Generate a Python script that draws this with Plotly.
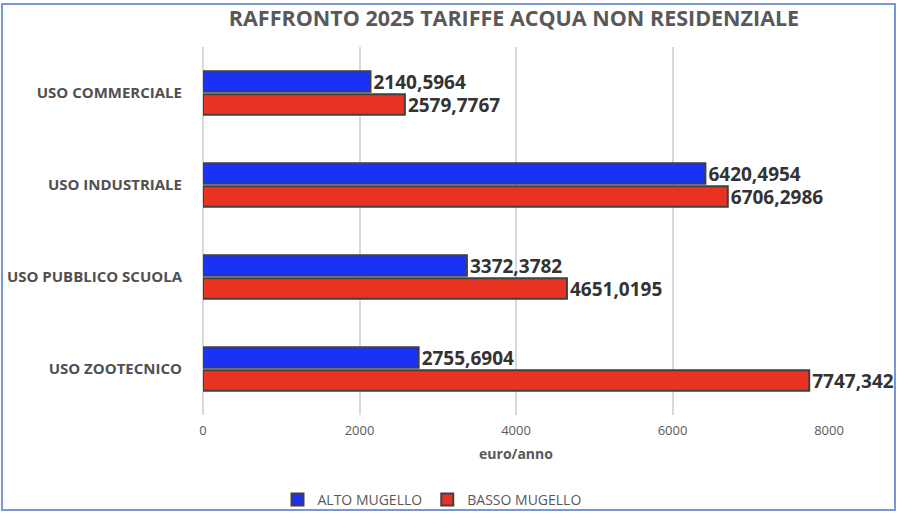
import plotly.graph_objects as go

categories = ["USO COMMERCIALE", "USO INDUSTRIALE", "USO PUBBLICO SCUOLA", "USO ZOOTECNICO"]
alto_mugello = [2140.5964, 6420.4954, 3372.3782, 2755.6904]
basso_mugello = [2579.7767, 6706.2986, 4651.0195, 7747.342]
tick_vals = [0, 2000, 4000, 6000, 8000]

def fmt(v):
    return f"{v}".replace(".", ",")

L, R, T, B = 203, 71, 47, 98
W, H = 900, 513
pw, ph = W - L - R, H - T - B

fig = go.Figure()
for name, vals, col in [("ALTO MUGELLO", alto_mugello, "#1932f5"),
                        ("BASSO MUGELLO", basso_mugello, "#e83323")]:
    fig.add_trace(go.Bar(
        y=categories, x=vals, name=name, orientation="h",
        marker=dict(color=col, line=dict(color="#404040", width=2)),
        text=[fmt(v) for v in vals], textposition="outside",
        constraintext="none",
        textfont=dict(family="Open Sans", size=19, color="#333333", weight="bold"),
        cliponaxis=False,
    ))

def px_to_paper_x(p):
    return (p - L) / pw

def px_to_paper_y(p):
    return (H - B - p) / ph

fig.update_layout(
    width=W, height=H,
    margin=dict(l=L, r=R, t=T, b=B, autoexpand=False),
    paper_bgcolor="white", plot_bgcolor="white",
    barmode="group", bargap=0.5, bargroupgap=0.1,
    title=dict(text="<b>RAFFRONTO 2025 TARIFFE ACQUA NON RESIDENZIALE</b>",
               x=px_to_paper_x(514), xref="paper", xanchor="center",
               y=1 - 18 / H, yanchor="middle",
               font=dict(family="Open Sans", size=21.5, color="#595959")),
    xaxis=dict(range=[0, 8000], tickvals=tick_vals, showgrid=True,
               gridcolor="#d9d9d9", gridwidth=2, zeroline=True,
               zerolinecolor="#d9d9d9", zerolinewidth=2, showline=False,
               tickfont=dict(family="Open Sans", size=13, color="#595959"),
               ticks="", ticklabelstandoff=6, automargin=False,
               title=dict(text="<b>euro/anno</b>", standoff=11,
                          font=dict(family="Open Sans", size=14, color="#595959"))),
    yaxis=dict(autorange="reversed", showgrid=False, zeroline=False,
               tickfont=dict(family="Open Sans", size=15, color="#505050", weight="bold"),
               ticks="", ticklabelstandoff=20, automargin=False),
    legend=dict(orientation="h", x=px_to_paper_x(432), xanchor="center",
                y=px_to_paper_y(500), yanchor="middle",
                bgcolor="rgba(0,0,0,0)",
                font=dict(family="Open Sans", size=14, color="#595959"),
                itemwidth=30),
    showlegend=True,
)

fig.add_shape(type="rect", xref="paper", yref="paper",
              x0=px_to_paper_x(2), x1=px_to_paper_x(895),
              y0=px_to_paper_y(510), y1=px_to_paper_y(4),
              line=dict(color="#7b96d6", width=2), layer="below")

fig.write_html("out.html", config={"displayModeBar": False},
               post_script="document.body.style.margin='0';document.body.style.overflow='hidden';")
